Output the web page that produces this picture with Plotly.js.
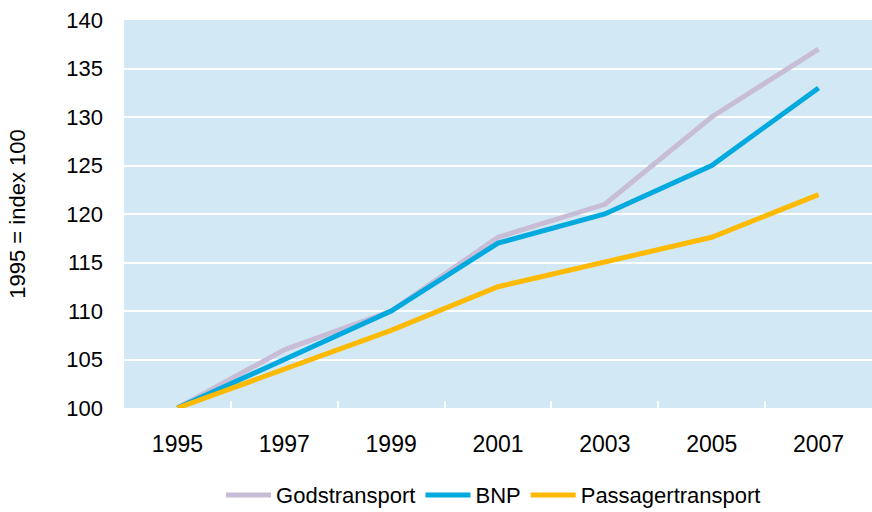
<!DOCTYPE html>
<html>
<head>
<meta charset="utf-8">
<script src="https://cdn.plot.ly/plotly-3.0.1.min.js"></script>
<style>html,body{margin:0;padding:0;background:#fff;}#chart{width:872px;height:512px;}</style>
</head>
<body>
<div id="chart"></div>
<script>
var years = ["1995", "1997", "1999", "2001", "2003", "2005", "2007"];
var godstransport = [100, 106, 110, 117.6, 121, 130, 137];
var bnp = [100, 105, 110, 117, 120, 125, 133];
var passagertransport = [100, 104, 108, 112.5, 115, 117.6, 122];
var yTicks = [100, 105, 110, 115, 120, 125, 130, 135, 140];

var seriesNames = ["Godstransport", "BNP", "Passagertransport"];
var seriesColors = ["#C8BDD6", "#00AADF", "#FDBA00"];
var seriesData = [godstransport, bnp, passagertransport];

var traces = seriesData.map(function (vals, i) {
  return {
    type: "scatter",
    mode: "lines",
    x: years,
    y: vals,
    name: seriesNames[i],
    line: {color: seriesColors[i], width: 5}
  };
});

var font = {family: "Liberation Sans, Arial, sans-serif", size: 22, color: "#000"};
var xfont = {family: "Liberation Sans, Arial, sans-serif", size: 23, color: "#000"};

var layout = {
  width: 872,
  height: 512,
  margin: {l: 124, r: 0, t: 20, b: 104},
  paper_bgcolor: "#ffffff",
  plot_bgcolor: "#D3E8F5",
  font: font,
  showlegend: true,
  legend: {
    orientation: "h",
    xref: "container", yref: "container",
    x: 0.566, xanchor: "center",
    y: 0.033, yanchor: "middle",
    font: font,
    itemwidth: 45,
    tracegroupgap: 0,
    borderwidth: 0
  },
  xaxis: {
    type: "category",
    range: [-0.5, 6.5],
    tickson: "boundaries",
    ticks: "inside",
    ticklen: 7,
    tickwidth: 2,
    tickcolor: "#ffffff",
    showgrid: false,
    zeroline: false,
    showline: false,
    ticklabelstandoff: 20,
    tickfont: xfont,
    automargin: false,
    fixedrange: true
  },
  yaxis: {
    range: [100, 140],
    tickvals: yTicks,
    ticktext: yTicks.map(String),
    ticks: "",
    showgrid: true,
    gridcolor: "#ffffff",
    gridwidth: 2,
    zeroline: false,
    showline: false,
    ticklabelstandoff: 20,
    tickfont: font,
    title: {text: "1995 = index 100", font: font, standoff: 34},
    automargin: false,
    fixedrange: true
  }
};

Plotly.newPlot("chart", traces, layout, {displayModeBar: false, staticPlot: true});
</script>
</body>
</html>
